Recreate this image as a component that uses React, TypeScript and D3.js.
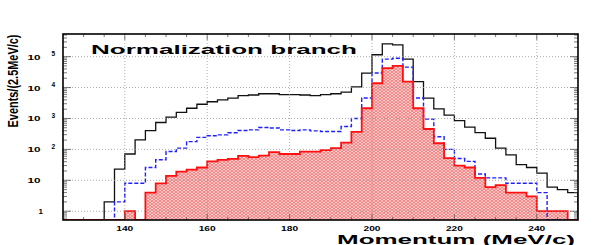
import React, { useEffect, useRef } from 'react';
import * as d3 from 'd3';

// lower edges of the 2.5 MeV/c bins
const binLow = [
  125, 127.5, 130, 132.5, 135, 137.5, 140, 142.5, 145, 147.5,
  150, 152.5, 155, 157.5, 160, 162.5, 165, 167.5, 170, 172.5,
  175, 177.5, 180, 182.5, 185, 187.5, 190, 192.5, 195, 197.5,
  200, 202.5, 205, 207.5, 210, 212.5, 215, 217.5, 220, 222.5,
  225, 227.5, 230, 232.5, 235, 237.5, 240, 242.5, 245, 247.5,
];
const binWidth = 2.5;

// all events (black)
const allEvents = [
  0, 0, 0, 0, 2, 23, 71, 204, 407, 741,
  1100, 1580, 2140, 2880, 3470, 3980, 4570, 5500, 5750, 6300,
  6300, 5900, 5900, 5750, 5500, 5900, 6300, 7100, 10500, 29500,
  115000, 257000, 240000, 83000, 15500, 4570, 2040, 1290, 850, 525,
  347, 229, 110, 66, 32, 26, 17, 6, 5, 4,
];
// intermediate selection (blue dashed)
const midEvents = [
  0, 0, 0, 0, 0, 2, 8, 8, 26, 46,
  85, 110, 178, 245, 275, 295, 347, 407, 427, 513,
  490, 427, 407, 427, 398, 380, 380, 550, 1000, 4570,
  29500, 83000, 89000, 45700, 4570, 955, 257, 100, 51, 41,
  16, 12, 12, 8, 8, 8, 4, 0, 0, 0,
];
// final selection (red, hatched)
const finalEvents = [
  0, 0, 0, 0, 0, 0, 1, 0, 4, 8,
  14, 19, 22, 26, 41, 46, 49, 62, 56, 63,
  81, 71, 71, 85, 85, 95, 110, 166, 370, 2140,
  13800, 42700, 50000, 15500, 2140, 457, 158, 52, 30, 26,
  12, 6, 7, 4, 4, 3, 1, 1, 1, 0,
];

const xTicks = [140, 160, 180, 200, 220, 240];
const yDecades = [1, 10, 100, 1000, 10000, 100000];
const yExponents = ['', '', '2', '3', '4', '5'];

export default function App() {
  const ref = useRef<SVGSVGElement>(null);

  useEffect(() => {
    const svg = d3.select(ref.current);
    svg.selectAll('*').remove();

    const left = 63, right = 578, top = 34, bottom = 220;
    const x = d3.scaleLinear().domain([125, 250]).range([left, right]);
    const y = d3.scaleLog().domain([0.52, 5.4e5]).range([bottom, top]);

    const defs = svg.append('defs');
    defs.append('clipPath').attr('id', 'frame')
      .append('rect')
      .attr('x', left).attr('y', top)
      .attr('width', right - left).attr('height', bottom - top);
    const pat = defs.append('pattern')
      .attr('id', 'hatch')
      .attr('patternUnits', 'userSpaceOnUse')
      .attr('width', 4).attr('height', 3);
    pat.append('rect').attr('width', 4).attr('height', 3).attr('fill', '#fcdada');
    pat.append('path').attr('d', 'M0,0 L4,3 M0,3 L4,0')
      .attr('stroke', '#f05858').attr('stroke-width', 0.7).attr('fill', 'none');

    const yv = (v: number) => (v > 0 ? y(v) : bottom);

    const stepPath = (vals: number[]) => {
      let d = `M${x(binLow[0])},${bottom}`;
      vals.forEach((v, i) => {
        d += `L${x(binLow[i])},${yv(v)}L${x(binLow[i] + binWidth)},${yv(v)}`;
      });
      d += `L${x(binLow[binLow.length - 1] + binWidth)},${bottom}`;
      return d;
    };

    const plot = svg.append('g').attr('clip-path', 'url(#frame)');

    // hatched fill for the final selection
    plot.append('path')
      .attr('d', stepPath(finalEvents) + 'Z')
      .attr('fill', 'url(#hatch)')
      .attr('stroke', 'none');

    // grid
    const grid = svg.append('g')
      .attr('stroke', '#999')
      .attr('stroke-width', 0.8)
      .attr('stroke-dasharray', '1,2');
    grid.selectAll('line.gx').data(xTicks).enter().append('line')
      .attr('x1', d => x(d)).attr('x2', d => x(d))
      .attr('y1', top).attr('y2', bottom);
    grid.selectAll('line.gy').data(yDecades).enter().append('line')
      .attr('x1', left).attr('x2', right)
      .attr('y1', d => y(d)).attr('y2', d => y(d));

    plot.append('path')
      .attr('d', stepPath(allEvents))
      .attr('fill', 'none').attr('stroke', '#111').attr('stroke-width', 1.3);
    plot.append('path')
      .attr('d', stepPath(midEvents))
      .attr('fill', 'none').attr('stroke', '#2020ff').attr('stroke-width', 1.4)
      .attr('stroke-dasharray', '4,2');
    plot.append('path')
      .attr('d', stepPath(finalEvents))
      .attr('fill', 'none').attr('stroke', '#ff1010').attr('stroke-width', 1.8);

    // ticks
    const ticks = svg.append('g').attr('stroke', '#555').attr('stroke-width', 0.8);
    const xMinor = d3.range(130, 250, 5);
    xMinor.forEach(v => {
      const len = v % 20 === 0 ? 6 : 3;
      ticks.append('line').attr('x1', x(v)).attr('x2', x(v)).attr('y1', bottom).attr('y2', bottom - len);
      ticks.append('line').attr('x1', x(v)).attr('x2', x(v)).attr('y1', top).attr('y2', top + len);
    });
    const yTicks: number[] = [];
    for (let e = -1; e <= 5; e++) {
      for (let m = 1; m <= 9; m++) {
        const v = m * Math.pow(10, e);
        if (v >= 0.52 && v <= 5.4e5) yTicks.push(v);
      }
    }
    yTicks.forEach(v => {
      const major = Math.abs(Math.log10(v) - Math.round(Math.log10(v))) < 1e-9;
      const len = major ? 8 : 4;
      ticks.append('line').attr('x1', left).attr('x2', left + len).attr('y1', y(v)).attr('y2', y(v));
      ticks.append('line').attr('x1', right).attr('x2', right - len).attr('y1', y(v)).attr('y2', y(v));
    });

    // frame
    svg.append('rect')
      .attr('x', left).attr('y', top)
      .attr('width', right - left).attr('height', bottom - top)
      .attr('fill', 'none').attr('stroke', '#000').attr('stroke-width', 1.6);

    const font = 'Liberation Sans, Arial, sans-serif';

    // x tick labels
    svg.append('g').selectAll('text').data(xTicks).enter().append('text')
      .attr('x', d => x(d)).attr('y', 230.5)
      .attr('text-anchor', 'middle')
      .attr('font-family', font).attr('font-weight', 'bold').attr('font-size', 8)
      .attr('textLength', 17).attr('lengthAdjust', 'spacingAndGlyphs')
      .text(d => d);

    // y tick labels
    const yl = svg.append('g')
      .attr('font-family', font).attr('font-weight', 'bold');
    yDecades.forEach((d, i) => {
      if (d === 1) {
        yl.append('text').attr('x', 43).attr('y', y(d) + 2.5)
          .attr('text-anchor', 'end').attr('font-size', 8).text('1');
      } else {
        yl.append('text').attr('x', 40.5).attr('y', y(d) + 3)
          .attr('text-anchor', 'end').attr('font-size', 8)
          .attr('textLength', 13).attr('lengthAdjust', 'spacingAndGlyphs')
          .text('10');
        if (yExponents[i]) {
          yl.append('text').attr('x', 51.5).attr('y', y(d) - 0.5)
            .attr('font-size', 6.5).text(yExponents[i]);
        }
      }
    });

    // titles
    svg.append('text')
      .attr('x', 91).attr('y', 54)
      .attr('font-family', font).attr('font-weight', 'bold').attr('font-size', 13)
      .attr('textLength', 266).attr('lengthAdjust', 'spacingAndGlyphs')
      .text('Normalization branch');
    svg.append('text')
      .attr('x', 337).attr('y', 243.5)
      .attr('font-family', font).attr('font-weight', 'bold').attr('font-size', 13.5)
      .attr('textLength', 238).attr('lengthAdjust', 'spacingAndGlyphs')
      .text('Momentum (MeV/c)');
    svg.append('text')
      .attr('transform', 'translate(18,81) rotate(-90)')
      .attr('text-anchor', 'middle')
      .attr('font-family', font).attr('font-weight', 'bold').attr('font-size', 15.5)
      .attr('textLength', 93).attr('lengthAdjust', 'spacingAndGlyphs')
      .text('Events/(2.5MeV/c)');
  }, []);

  return (
    <svg
      ref={ref}
      width={598}
      height={245}
      style={{ position: 'absolute', left: 0, top: 0, background: '#fff' }}
    />
  );
}
